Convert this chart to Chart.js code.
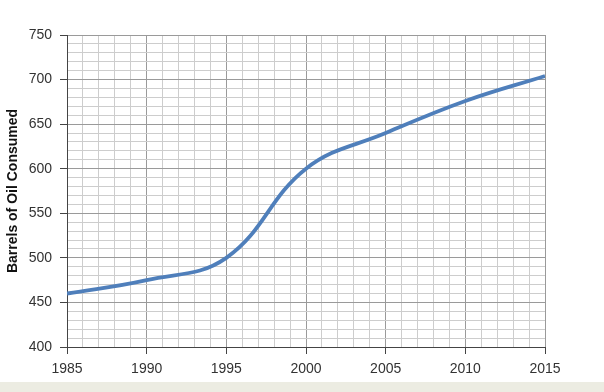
<!DOCTYPE html>
<html>
<head>
<meta charset="utf-8">
<script src="https://cdn.jsdelivr.net/npm/chart.js@4"></script>
<style>
  body { margin: 0; background: #ffffff; }
  #wrap { width: 604px; height: 392px; position: relative; }
  #holder { width: 604px; height: 382px; }
  #strip { width: 604px; height: 10px; background: #ecece2; }
</style>
</head>
<body>
<div id="wrap">
  <div id="holder"><canvas id="myChart"></canvas></div>
  <div id="strip"></div>
</div>
<script>
var years = [1985, 1990, 1995, 2000, 2005, 2010, 2015];
var barrels = [460, 475, 500, 600, 640, 676, 704];
var yTitle = "Barrels of Oil Consumed";

var fontFamily = "'Liberation Sans', Arial, sans-serif";

function points() {
  return years.map((y, i) => ({ x: y, y: barrels[i] }));
}

window.onload = function () {
  var ctx = document.getElementById("myChart").getContext("2d");
  new Chart(ctx, {
    type: "line",
    data: {
      datasets: [
        {
          label: yTitle,
          data: points(),
          borderColor: "#4f7fbb",
          borderWidth: 3.8,
          pointRadius: 0,
          tension: 0.4,
          fill: false,
        },
      ],
    },
    options: {
      responsive: true,
      maintainAspectRatio: false,
      animation: false,
      layout: { padding: { top: 35, right: 59, left: 5, bottom: 0 } },
      plugins: { legend: { display: false }, tooltip: { enabled: false } },
      scales: {
        x: {
          type: "linear",
          min: 1985,
          max: 2015,
          afterFit: function (scale) { scale.height = 35; },
          ticks: {
            stepSize: 1,
            autoSkip: false,
            maxRotation: 0,
            padding: 7,
            color: "#333333",
            font: { family: fontFamily, size: 14 },
            callback: function (v) { return v % 5 === 0 ? String(v) : ""; },
          },
          grid: {
            tickLength: 7,
            color: function (c) { return c.tick && c.tick.value % 5 === 0 ? "#9a9a9a" : "#cdcdcd"; },
            tickColor: function (c) { return c.tick && c.tick.value % 5 === 0 ? "#444444" : "rgba(0,0,0,0)"; },
            lineWidth: 1,
          },
          border: { color: "#444444", width: 1 },
        },
        y: {
          min: 400,
          max: 750,
          afterFit: function (scale) { scale.width = 62; },
          title: {
            display: true,
            text: yTitle,
            color: "#111111",
            font: { family: fontFamily, size: 14, weight: "bold" },
            padding: { top: 0, bottom: 0 },
          },
          ticks: {
            stepSize: 10,
            autoSkip: false,
            padding: 8,
            color: "#333333",
            font: { family: fontFamily, size: 14 },
            callback: function (v) { return v % 50 === 0 ? String(v) : ""; },
          },
          grid: {
            tickLength: 7,
            color: function (c) { return c.tick && c.tick.value % 50 === 0 ? "#9a9a9a" : "#cdcdcd"; },
            tickColor: function (c) { return c.tick && c.tick.value % 50 === 0 ? "#444444" : "rgba(0,0,0,0)"; },
            lineWidth: 1,
          },
          border: { color: "#444444", width: 1 },
        },
      },
    },
  });
};
</script>
</body>
</html>
